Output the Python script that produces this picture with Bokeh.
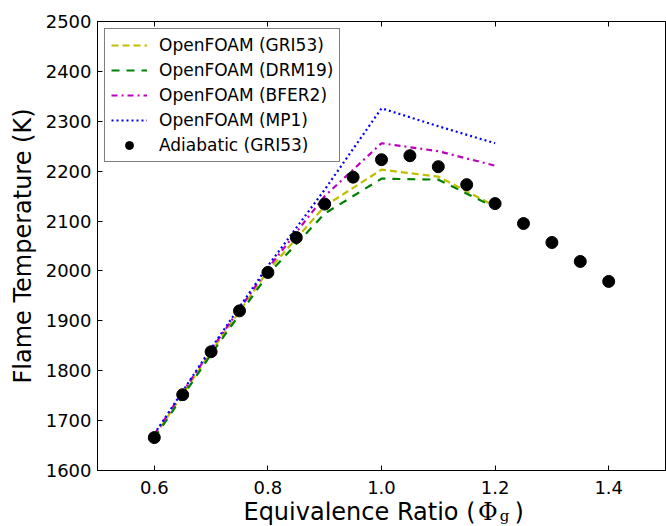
from bokeh.plotting import figure
from bokeh.layouts import column
from bokeh.models import (Range1d, FixedTicker, LinearAxis, Label, Legend,
                          LegendItem, NumeralTickFormatter, CustomJSTickFormatter)
from bokeh.embed import file_html
from bokeh.resources import INLINE

# ---- data -----------------------------------------------------------------
phi_lines = [0.6, 0.7, 0.8, 0.9, 1.0, 1.1, 1.2]
T_gri53 = [1668, 1838, 2000, 2130, 2203, 2189, 2130]
T_drm19 = [1665, 1833, 1993, 2115, 2185, 2183, 2127]
T_bfer2 = [1672, 1842, 2005, 2150, 2256, 2240, 2211]
T_mp1 = [1673, 1845, 2010, 2163, 2326, 2290, 2256]

phi_adiab = [0.6, 0.65, 0.7, 0.75, 0.8, 0.85, 0.9, 0.95, 1.0, 1.05,
             1.1, 1.15, 1.2, 1.25, 1.3, 1.35, 1.4]
T_adiab = [1666, 1752, 1838, 1920, 1997, 2067, 2134, 2188, 2223, 2231,
           2209, 2173, 2135, 2095, 2057, 2019, 1979]

x_ticks = [0.6, 0.8, 1.0, 1.2, 1.4]
y_ticks = [1600, 1700, 1800, 1900, 2000, 2100, 2200, 2300, 2400, 2500]

series_labels = ["OpenFOAM (GRI53)", "OpenFOAM (DRM19)", "OpenFOAM (BFER2)",
                 "OpenFOAM (MP1)", "Adiabatic (GRI53)"]
x_label_parts = ["Equivalence Ratio (", "Φ", "g", ")"]
y_label = "Flame Temperature (K)"

FONT = "DejaVu Sans"

p = figure(width=666, height=501, output_backend="svg", toolbar_location=None,
           x_range=Range1d(0.5, 1.5), y_range=Range1d(1600, 2500),
           min_border_left=97, min_border_top=21, min_border_bottom=31,
           min_border_right=1)

p.xgrid.grid_line_color = None
p.ygrid.grid_line_color = None
p.outline_line_color = "black"
p.outline_line_width = 1
p.background_fill_color = "white"
p.border_fill_color = "white"

# axes
for ax in [p.xaxis[0], p.yaxis[0]]:
    ax.major_tick_in = 5
    ax.major_tick_out = 0
    ax.minor_tick_in = 0
    ax.minor_tick_out = 0
    ax.axis_line_color = "black"
    ax.major_tick_line_color = "black"
    ax.major_label_text_font = FONT
    ax.major_label_text_font_size = "18px"
    ax.major_label_text_color = "black"

p.xaxis[0].ticker = FixedTicker(ticks=x_ticks)
p.xaxis[0].formatter = NumeralTickFormatter(format="0.0")
p.xaxis[0].major_label_standoff = 10

p.yaxis[0].ticker = FixedTicker(ticks=y_ticks)
p.yaxis[0].formatter = NumeralTickFormatter(format="0")
p.yaxis[0].major_label_standoff = 6
p.yaxis[0].axis_label = y_label
p.yaxis[0].axis_label_text_font = FONT
p.yaxis[0].axis_label_text_font_size = "24px"
p.yaxis[0].axis_label_text_font_style = "normal"
p.yaxis[0].axis_label_text_color = "black"
p.yaxis[0].axis_label_standoff = 6

empty = CustomJSTickFormatter(code="return ''")
top_ax = LinearAxis(ticker=FixedTicker(ticks=x_ticks), formatter=empty,
                    major_tick_in=5, major_tick_out=0, minor_tick_in=0,
                    minor_tick_out=0, axis_line_color="black",
                    major_label_text_font_size="1px")
p.add_layout(top_ax, "above")

# series
r1 = p.line(phi_lines, T_gri53, line_color="#bfbf00", line_width=2.2,
            line_dash="7 4")
r2 = p.line(phi_lines, T_drm19, line_color="#008000", line_width=2.2,
            line_dash="8 7")
r3 = p.line(phi_lines, T_bfer2, line_color="#bf00bf", line_width=2.2,
            line_dash="6 4 2 4")
r4 = p.line(phi_lines, T_mp1, line_color="#0000ff", line_width=2.2,
            line_dash="2 3")
r5 = p.scatter(phi_adiab, T_adiab, size=12, marker="circle",
               fill_color="black", line_color="black")

legend = Legend(items=[LegendItem(label=lab, renderers=[r])
                       for lab, r in zip(series_labels, [r1, r2, r3, r4, r5])],
                location="top_left", margin=7, padding=6, spacing=5,
                glyph_width=36, glyph_height=20, label_height=20,
                label_standoff=12, label_text_font=FONT,
                label_text_font_size="17px", label_text_color="black",
                border_line_color="black", border_line_width=1,
                background_fill_color="white", background_fill_alpha=1.0)
p.add_layout(legend)

# x-axis title strip (allows the subscript g); its frame aligns with p's frame
p2 = figure(width=666, height=25, output_backend="svg", toolbar_location=None,
            x_range=p.x_range, y_range=Range1d(0, 25),
            x_axis_type=None, y_axis_type=None,
            min_border_left=97, min_border_right=1, min_border_top=0,
            min_border_bottom=0)
p2.outline_line_color = None
p2.xgrid.grid_line_color = None
p2.ygrid.grid_line_color = None
p2.border_fill_color = "white"

# (phi position, baseline offset in px, font, size)
specs = [(0.757, 15, FONT, "24px"), (1.170, 15, "DejaVu Serif", "24px"),
         (1.208, 11, "DejaVu Serif", "15px"), (1.234, 15, FONT, "24px")]
for txt, (lx, ly, fnt, fs) in zip(x_label_parts, specs):
    p2.add_layout(Label(x=lx, y=ly, text=txt, text_font=fnt,
                        text_font_size=fs, text_color="black",
                        text_baseline="alphabetic", text_align="left"))

layout = column(p, p2, spacing=0)
open("out.html", "w").write(file_html(layout, INLINE))
